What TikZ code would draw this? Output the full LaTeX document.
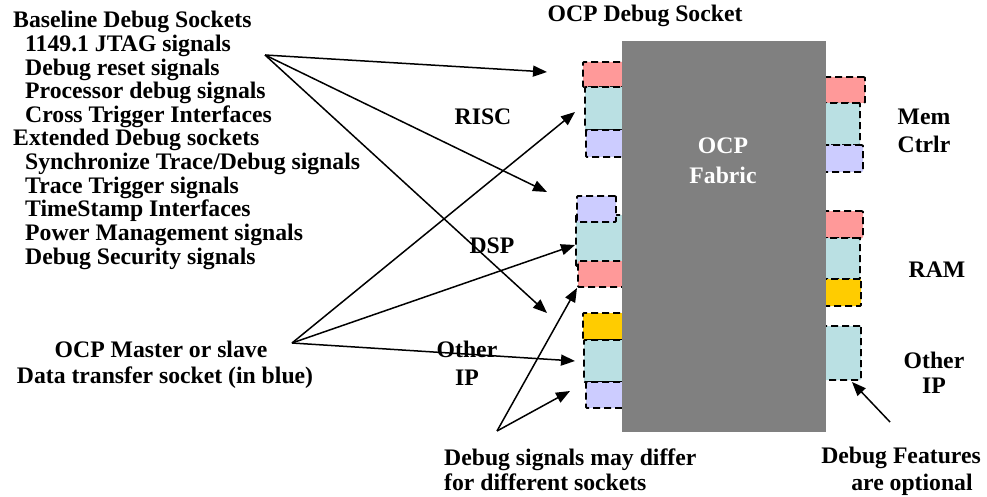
\documentclass[tikz,border=0pt]{standalone}
\usepackage{fontspec}
\setmainfont{Liberation Serif}
\usetikzlibrary{arrows.meta,fit}

\definecolor{sockpink}{HTML}{FF9999}
\definecolor{sockteal}{HTML}{BAE0E3}
\definecolor{socklav}{HTML}{CCCCFF}
\definecolor{sockgold}{HTML}{FFCC00}
\definecolor{fabricgray}{HTML}{808080}

\tikzset{
  sock/.style={draw=black, line width=1.8pt, dash pattern=on 7pt off 4pt,
    rounded corners=1pt, inner sep=0pt, fit={#1}},
  lbl/.style={font=\fontsize{23.7}{24}\selectfont\bfseries, inner sep=0pt},
  arr/.style={line width=1.5pt, -{Triangle[length=14pt,width=11pt]}}
}

\begin{document}
\begin{tikzpicture}[x=1pt,y=-1pt]
\useasboundingbox (0,0) rectangle (987,497);

% ---- sockets on the left side of the fabric ----
% RISC
\node[sock={(583,62) (632,87)}, fill=sockpink] (riscA) {};
\node[sock={(585,87) (632,130)}, fill=sockteal] (riscB) {};
\node[sock={(586,130) (632,157)}, fill=socklav] (riscC) {};
% DSP
\node[sock={(576,215) (632,266)}, fill=sockteal] (dspB) {};
\node[sock={(577,196) (616,222)}, fill=socklav] (dspA) {};
\node[sock={(578,261) (632,287)}, fill=sockpink] (dspC) {};
% Other IP (left)
\node[sock={(583,313) (632,340)}, fill=sockgold] (oipA) {};
\node[sock={(584,340) (632,382)}, fill=sockteal] (oipB) {};
\node[sock={(586,382) (632,408)}, fill=socklav] (oipC) {};

% ---- sockets on the right side of the fabric ----
% Mem Ctrlr
\node[sock={(816,77) (865,103)}, fill=sockpink] (memA) {};
\node[sock={(816,103) (860,145)}, fill=sockteal] (memB) {};
\node[sock={(816,145) (863,172)}, fill=socklav] (memC) {};
% RAM
\node[sock={(816,211) (863,238)}, fill=sockpink] (ramA) {};
\node[sock={(816,238) (860,279)}, fill=sockteal] (ramB) {};
\node[sock={(816,279) (861,306)}, fill=sockgold] (ramC) {};
% Other IP (right)
\node[sock={(816,326) (861,380)}, fill=sockteal] (roip) {};

% ---- OCP fabric ----
\node[fill=fabricgray, inner sep=0pt, fit={(622,41) (826,432)}] (fabric) {};
\node[lbl, text=white, anchor=base] (fab1) at (723,154) {OCP};
\node[lbl, text=white, anchor=base] (fab2) at (723,183) {Fabric};

% ---- titles and block labels ----
\node[lbl, anchor=base] (title) at (645,22) {OCP Debug Socket};
\node[lbl, anchor=base] (risc) at (483,125) {RISC};
\node[lbl, anchor=base] (dsp) at (492,253) {DSP};
\node[lbl, anchor=base] (oip1) at (467,357) {Other};
\node[lbl, anchor=base] (oip2) at (467,385) {IP};
\node[lbl, anchor=base] (mem1) at (924,125) {Mem};
\node[lbl, anchor=base] (mem2) at (924,153) {Ctrlr};
\node[lbl, anchor=base] (ram) at (937,277) {RAM};
\node[lbl, anchor=base] (roip1) at (934,368) {Other};
\node[lbl, anchor=base] (roip2) at (934,393) {IP};

% ---- signal list ----
\foreach \xx/\txt [count=\i from 0] in {
    13/{Baseline Debug Sockets},
    25/{1149.1 JTAG signals},
    25/{Debug reset signals},
    25/{Processor debug signals},
    25/{Cross Trigger Interfaces},
    13/{Extended Debug sockets},
    25/{Synchronize Trace{/}Debug signals},
    25/{Trace Trigger signals},
    25/{TimeStamp Interfaces},
    25/{Power Management signals},
    25/{Debug Security signals}}
  \node[lbl, anchor=base west] (sig\i) at (\xx, 28+23.6*\i) {\txt};

% ---- notes ----
\node[lbl, anchor=base] (mst1) at (161,357) {OCP Master or slave};
\node[lbl, anchor=base] (mst2) at (165,383) {Data transfer socket (in blue)};
\node[lbl, anchor=base west] (dif1) at (444,465) {Debug signals may differ};
\node[lbl, anchor=base west] (dif2) at (444,490) {for different sockets};
\node[lbl, anchor=base] (opt1) at (901,463) {Debug Features};
\node[lbl, anchor=base] (opt2) at (912,490) {are optional};

% ---- arrow sources and targets ----
\coordinate (srcSig) at (265,55);
\coordinate (srcMst) at (292,343);
\coordinate (srcDif) at (497,431);
\coordinate (srcOpt) at (890,422);
\coordinate (tSig1) at (547,72);
\coordinate (tSig2) at (547,192);
\coordinate (tSig3) at (547,313);
\coordinate (tMst1) at (575,112);
\coordinate (tMst2) at (575,245);
\coordinate (tMst3) at (575,361);
\coordinate (tDif1) at (577,288);
\coordinate (tDif2) at (570,391);
\coordinate (tOpt) at (852,382);

% ---- arrows ----
\draw[arr] (srcSig) -- (tSig1);
\draw[arr] (srcSig) -- (tSig2);
\draw[arr] (srcSig) -- (tSig3);
\draw[arr] (srcMst) -- (tMst1);
\draw[arr] (srcMst) -- (tMst2);
\draw[arr] (srcMst) -- (tMst3);
\draw[arr] (srcDif) -- (tDif1);
\draw[arr] (srcDif) -- (tDif2);
\draw[arr] (srcOpt) -- (tOpt);
\end{tikzpicture}
\end{document}
